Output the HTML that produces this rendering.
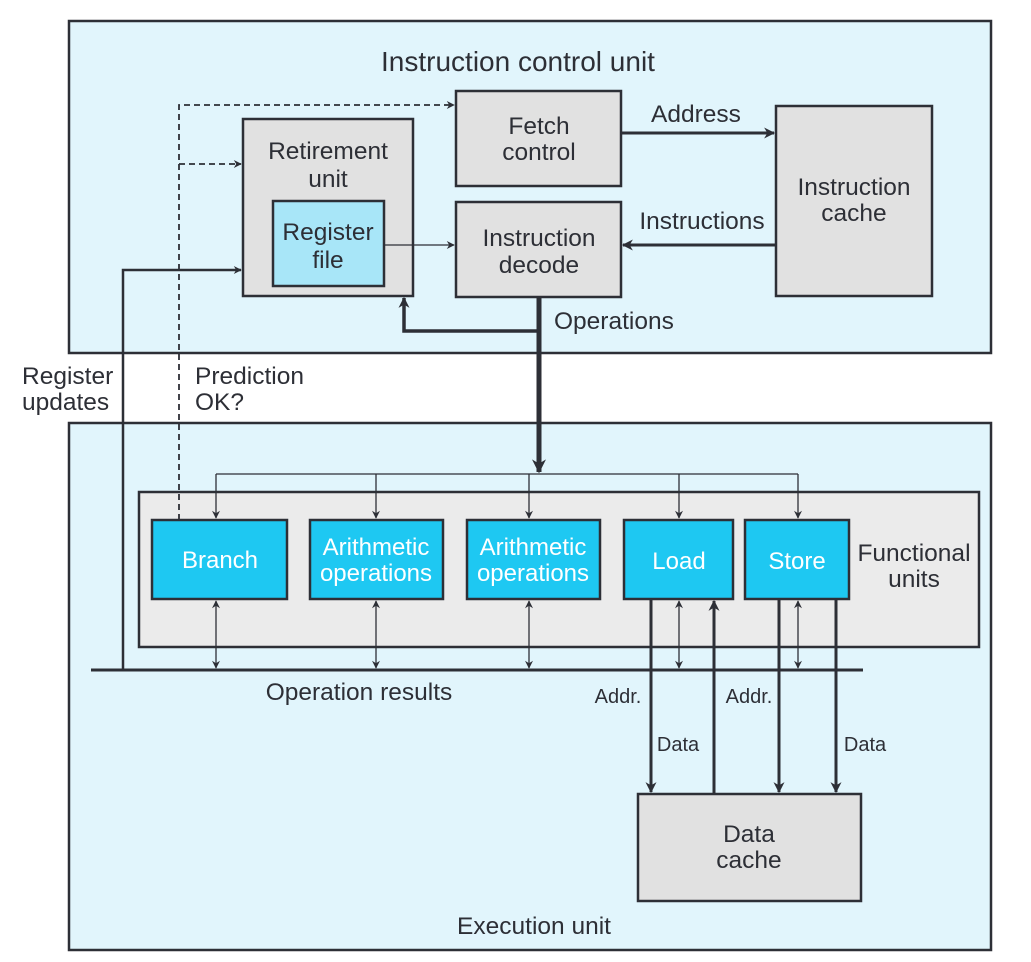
<!DOCTYPE html>
<html><head><style>
html,body{margin:0;padding:0;background:#fff;}
svg{display:block;font-family:"Liberation Sans",Arial,sans-serif;}
</style></head><body>
<svg width="1031" height="962" viewBox="0 0 1031 962" xmlns="http://www.w3.org/2000/svg">
<defs>
<marker id="a" viewBox="0 0 10 10" refX="9" refY="5" markerWidth="9" markerHeight="8" orient="auto-start-reverse" markerUnits="userSpaceOnUse"><path d="M0,0 L10,5 L0,10 L3,5 z" fill="#2d2f36"/></marker>
<marker id="b" viewBox="0 0 10 10" refX="9" refY="5" markerWidth="16" markerHeight="14" orient="auto-start-reverse" markerUnits="userSpaceOnUse"><path d="M0,0 L10,5 L0,10 L3,5 z" fill="#2d2f36"/></marker>
<marker id="c" viewBox="0 0 10 10" refX="9" refY="5" markerWidth="13" markerHeight="11" orient="auto-start-reverse" markerUnits="userSpaceOnUse"><path d="M0,0 L10,5 L0,10 L3,5 z" fill="#2d2f36"/></marker>
</defs>
<g stroke="#2d2f36" stroke-width="2.5">
<rect x="69" y="21" width="922" height="332" fill="#e1f5fc"/>
<rect x="69" y="423" width="922" height="527" fill="#e1f5fc"/>
<rect x="456" y="91" width="165" height="95" fill="#e1e1e1"/>
<rect x="243" y="119" width="170" height="177" fill="#e1e1e1"/>
<rect x="273" y="201" width="111" height="85" fill="#a8e6f8"/>
<rect x="456" y="202" width="165" height="95" fill="#e1e1e1"/>
<rect x="776" y="106" width="156" height="190" fill="#e1e1e1"/>
<rect x="139" y="492" width="840" height="155" fill="#ebebeb"/>
<rect x="152" y="520" width="135" height="79" fill="#1ec8f2"/>
<rect x="310" y="520" width="133" height="79" fill="#1ec8f2"/>
<rect x="467" y="520" width="133" height="79" fill="#1ec8f2"/>
<rect x="624" y="520" width="109" height="79" fill="#1ec8f2"/>
<rect x="745" y="520" width="104" height="79" fill="#1ec8f2"/>
<rect x="638" y="794" width="223" height="107" fill="#e1e1e1"/>
</g>
<g stroke="#2d2f36" fill="none">
<path d="M621,133 H774" stroke-width="3" marker-end="url(#c)"/>
<path d="M776,245 H623" stroke-width="3" marker-end="url(#c)"/>
<path d="M384,245 H454" stroke-width="1.2" marker-end="url(#a)"/>
<path d="M179,520 V105 H454" stroke-width="1.8" stroke-dasharray="6,4" marker-end="url(#a)"/>
<path d="M179,164 H241" stroke-width="1.8" stroke-dasharray="6,4" marker-end="url(#a)"/>
<path d="M123,670 V270 H241" stroke-width="2.5" marker-end="url(#a)"/>
<path d="M539,297 V472" stroke-width="5" marker-end="url(#b)"/>
<path d="M539,331 H404 V298" stroke-width="3.5" marker-end="url(#c)"/>
<path d="M216,474 H798" stroke-width="1.3"/>
<path d="M216,474 V518" stroke-width="1.3" marker-end="url(#a)"/>
<path d="M376,474 V518" stroke-width="1.3" marker-end="url(#a)"/>
<path d="M529,474 V518" stroke-width="1.3" marker-end="url(#a)"/>
<path d="M679,474 V518" stroke-width="1.3" marker-end="url(#a)"/>
<path d="M798,474 V518" stroke-width="1.3" marker-end="url(#a)"/>
<path d="M91,670 H863" stroke-width="3"/>
<path d="M216,601 V668" stroke-width="1.3" marker-start="url(#a)" marker-end="url(#a)"/>
<path d="M376,601 V668" stroke-width="1.3" marker-start="url(#a)" marker-end="url(#a)"/>
<path d="M529,601 V668" stroke-width="1.3" marker-start="url(#a)" marker-end="url(#a)"/>
<path d="M679,601 V668" stroke-width="1.3" marker-start="url(#a)" marker-end="url(#a)"/>
<path d="M798,601 V668" stroke-width="1.3" marker-start="url(#a)" marker-end="url(#a)"/>
<path d="M651,599 V792" stroke-width="3" marker-end="url(#c)"/>
<path d="M714,794 V601" stroke-width="3" marker-end="url(#c)"/>
<path d="M779,599 V792" stroke-width="3" marker-end="url(#c)"/>
<path d="M836,599 V792" stroke-width="3" marker-end="url(#c)"/>
</g>
<g fill="#2d2f36" font-size="24.5" text-anchor="middle">
<text x="518" y="71" font-size="28">Instruction control unit</text>
<text x="539" y="134">Fetch</text><text x="539" y="160">control</text>
<text x="328" y="159">Retirement</text><text x="328" y="187">unit</text>
<text x="328" y="240">Register</text><text x="328" y="268">file</text>
<text x="539" y="246">Instruction</text><text x="539" y="273">decode</text>
<text x="854" y="195">Instruction</text><text x="854" y="221">cache</text>
<text x="696" y="122">Address</text>
<text x="702" y="229">Instructions</text>
<text x="554" y="329" text-anchor="start">Operations</text>
<text x="22" y="384" text-anchor="start">Register</text><text x="22" y="410" text-anchor="start">updates</text>
<text x="195" y="384" text-anchor="start">Prediction</text><text x="195" y="410" text-anchor="start">OK?</text>
<text x="914" y="561">Functional</text><text x="914" y="587">units</text>
<text x="359" y="700">Operation results</text>
<text x="749" y="842">Data</text><text x="749" y="868">cache</text>
<text x="534" y="934">Execution unit</text>
<g font-size="20"><text x="618" y="703">Addr.</text><text x="678" y="751">Data</text><text x="749" y="703">Addr.</text><text x="865" y="751">Data</text></g>
</g>
<g fill="#fff" font-size="24" text-anchor="middle">
<text x="220" y="568">Branch</text>
<text x="376" y="555">Arithmetic</text><text x="376" y="581">operations</text>
<text x="533" y="555">Arithmetic</text><text x="533" y="581">operations</text>
<text x="679" y="569">Load</text>
<text x="797" y="569">Store</text>
</g>
</svg>
</body></html>
